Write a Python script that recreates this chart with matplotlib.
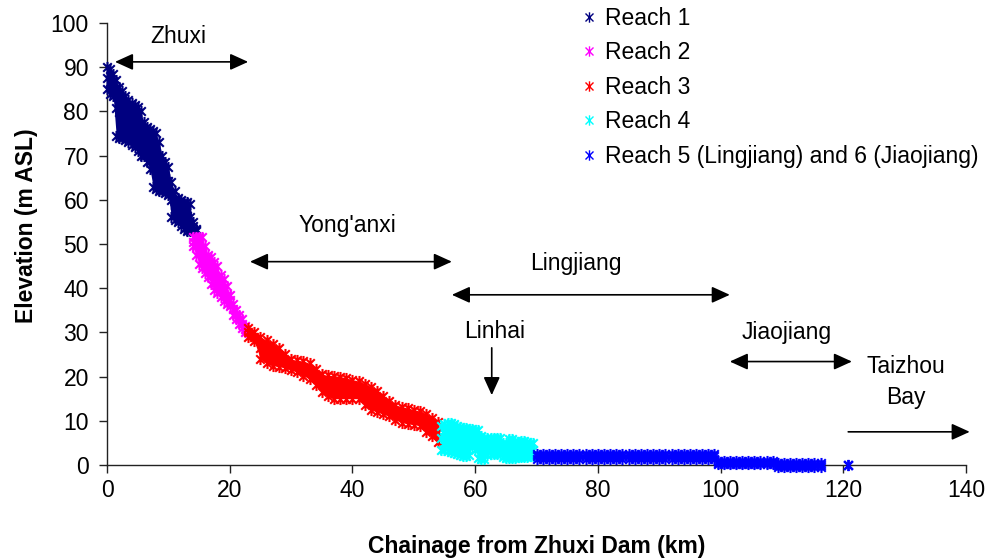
import numpy as np
import matplotlib
matplotlib.use('Agg')
import matplotlib.pyplot as plt
from matplotlib.path import Path

plt.rcParams['font.family'] = ['Liberation Sans', 'DejaVu Sans']

# Reach profiles: chainage stations (km) with upper / lower elevation of the scatter (m ASL)
r1_km = [0, 0.5, 1, 1.5, 2, 2.5, 3, 3.5, 4, 4.5, 5, 5.5, 6, 6.5, 7, 7.5, 8, 8.5, 9, 9.5,
         10, 10.5, 11, 11.5, 12, 12.5, 13, 13.5, 14, 14.5]
r1_top = [90, 89.5, 88.5, 87, 85.5, 84.5, 83.5, 82.5, 82, 81.5, 81, 80, 77.5, 76.5, 76, 75.5,
          75, 73, 70, 68.5, 67.5, 64, 62, 60.5, 60, 59.5, 59.5, 59, 55, 53.5]
r1_bot = [85, 84, 83.5, 74.5, 74, 74, 73.5, 73, 72.5, 72, 71, 70, 70, 68.5, 67, 63, 62.5, 62,
          62, 61.5, 61, 56, 55.5, 55, 54, 53.5, 53, 53, 53, 53]

r2_km = [14, 14.5, 15, 15.5, 16, 16.5, 17, 17.5, 18, 18.5, 19, 19.5, 20, 20.5, 21, 21.5, 22, 22.5]
r2_top = [51.5, 51.5, 51.5, 51.5, 49.5, 47.5, 47, 46, 45, 43, 42, 40.5, 38.5, 36.5, 35, 34, 33, 31.5]
r2_bot = [49.5, 47.5, 45.5, 44.5, 43.5, 42.5, 41, 39.5, 39, 38, 37, 36.5, 36, 34, 33, 32, 31, 30]

r3_km = [23, 24, 25, 26, 27, 28, 29, 30, 31, 32, 33, 34, 35, 36, 37, 38, 39, 40, 41, 42,
         43, 44, 45, 46, 47, 48, 49, 50, 51, 52, 53, 54]
r3_top = [31, 30, 29, 28.2, 27.3, 26.5, 25, 23.9, 23.7, 23.5, 23, 21.8, 20.5, 20.3, 20.2, 20,
          19.7, 19.3, 19, 18.3, 17.7, 16.8, 15.7, 14.5, 13.6, 13.2, 12.9, 12.5, 12.2, 11.5, 10.7, 9.8]
r3_bot = [29, 28, 24, 23, 22.5, 22.2, 22, 21.5, 21, 20.2, 19.5, 18, 16.5, 15.5, 15, 15, 15, 15,
          15, 13.5, 12.5, 12, 11.5, 11, 10.2, 9.6, 9.3, 9.1, 8.9, 7.5, 6.5, 5.2]

r4_km = [54.5, 55, 55.5, 56, 56.5, 57, 57.5, 58, 58.5, 59, 59.5, 60, 60.5, 61, 61.5, 62, 62.5,
         63, 63.5, 64, 64.5, 65, 65.5, 66, 66.5, 67, 67.5, 68, 68.5, 69, 69.5]
r4_top = [8.8, 9.3, 9.6, 9.6, 9.2, 8.8, 8.6, 8.4, 8.3, 8.2, 8.1, 8, 8, 6.5, 6.2, 6.2, 6.2, 6.2,
          6.2, 6.2, 5, 5, 5.8, 5.8, 5.5, 5.3, 5.4, 5.5, 5.2, 5, 4.9]
r4_bot = [3.5, 3.3, 3.2, 3, 2.8, 2.5, 2.3, 2, 2.1, 2.3, 4, 3.5, 1.5, 1.4, 1.4, 2.3, 2.5, 2.5,
          2.5, 2.4, 1.7, 1.5, 1.5, 1.5, 1.6, 1.7, 1.7, 1.8, 1.8, 2, 2]

r5_km = [70, 71, 72, 73, 74, 75, 76, 77, 78, 79, 80, 81, 82, 83, 84, 85, 86, 87, 88, 89,
         90, 91, 92, 93, 94, 95, 96, 97, 98, 99,
         99.5, 100.5, 101.5, 102.5, 103.5, 104.5, 105.5, 106.5, 107.5, 108.5,
         109.3, 110.3, 111.3, 112.3, 113.3, 114.3, 115.3, 116.3, 120.7]
r5_top = [2.5] * 30 + [0.9] * 10 + [0.4] * 8 + [0]
r5_bot = [1.4] * 30 + [0.2] * 10 + [-0.4] * 8 + [0]

reaches = [
    ('Reach 1', '#000080', r1_km, r1_top, r1_bot),
    ('Reach 2', '#FF00FF', r2_km, r2_top, r2_bot),
    ('Reach 3', '#FF0000', r3_km, r3_top, r3_bot),
    ('Reach 4', '#00FFFF', r4_km, r4_top, r4_bot),
    ('Reach 5 (Lingjiang) and 6 (Jiaojiang)', '#0000FF', r5_km, r5_top, r5_bot),
]

# Excel style asterisk: an X with a vertical bar
star = Path([(-1, -1), (1, 1), (-1, 1), (1, -1), (0, -1.3), (0, 1.3)],
            [Path.MOVETO, Path.LINETO, Path.MOVETO, Path.LINETO, Path.MOVETO, Path.LINETO])

fig = plt.figure(figsize=(9.9, 5.59), dpi=100)
ax = fig.add_axes([0.1081, 0.1682, 0.8677, 0.7907])

handles = []
for name, col, km, top, bot in reaches:
    km = np.array(km)
    top = np.array(top)
    bot = np.array(bot)
    n = len(km) - 1 if name.startswith('Reach 5') else len(km)
    ax.fill_between(km[:n], bot[:n], top[:n], color=col, lw=0, zorder=3, clip_on=False)
    ax.plot(km, (top + bot) / 2, ls='none', marker=star, ms=8, mew=1.5, color=col,
            zorder=3, clip_on=False)
    ax.plot(km, bot, ls='none', marker=star, ms=8, mew=1.5, color=col,
            zorder=3, clip_on=False)
    ax.plot(km, top, ls='none', marker=star, ms=8, mew=1.5, color=col,
            zorder=3, clip_on=False)
    h, = ax.plot([], [], ls='none', marker=star, ms=7.5, mew=1.0, color=col, label=name)
    handles.append(h)

ax.set_xlim(0, 140)
ax.set_ylim(0, 100)
ax.set_xticks(range(0, 141, 20))
ax.set_yticks(range(0, 101, 10))
for s in ['top', 'right']:
    ax.spines[s].set_visible(False)
for s in ['left', 'bottom']:
    ax.spines[s].set_color('#222222')
    ax.spines[s].set_linewidth(1.0)
    ax.spines[s].set_zorder(2)
ax.tick_params(direction='out', length=6, width=1, color='#222222', labelsize=16.5)
ax.tick_params(axis='y', pad=7)
ax.tick_params(axis='x', pad=4)

ax.set_xlabel('Chainage from Zhuxi Dam (km)', fontsize=16.5, fontweight='bold')
ax.set_ylabel('Elevation (m ASL)', fontsize=16.5, fontweight='bold')
ax.xaxis.set_label_coords(0.5, -0.158)
ax.yaxis.set_label_coords(-0.08, 0.541)

# river section arrows
arr2 = dict(arrowstyle='<|-|>,head_length=1.1,head_width=0.5', color='black', lw=1.2,
            shrinkA=0, shrinkB=0, mutation_scale=10)
arr1 = dict(arrowstyle='-|>,head_length=1.1,head_width=0.5', color='black', lw=1.2,
            shrinkA=0, shrinkB=0, mutation_scale=10)
ax.annotate('', xy=(23.0, 91.2), xytext=(1.3, 91.2), arrowprops=arr2, annotation_clip=False)
ax.annotate('', xy=(56.2, 46.0), xytext=(23.3, 46.0), arrowprops=arr2, annotation_clip=False)
ax.annotate('', xy=(101.5, 38.5), xytext=(56.2, 38.5), arrowprops=arr2, annotation_clip=False)
ax.annotate('', xy=(121.4, 23.4), xytext=(101.5, 23.4), arrowprops=arr2, annotation_clip=False)
ax.annotate('', xy=(62.7, 15.8), xytext=(62.7, 26.5), arrowprops=arr1, annotation_clip=False)
ax.annotate('', xy=(140.6, 7.5), xytext=(120.8, 7.5), arrowprops=arr1, annotation_clip=False)

tk = dict(fontsize=16.5, ha='center', va='baseline')
ax.text(11.65, 95.4, 'Zhuxi', **tk)
ax.text(39.2, 52.8, "Yong'anxi", **tk)
ax.text(76.35, 44.0, 'Lingjiang', **tk)
ax.text(63.2, 28.7, 'Linhai', **tk)
ax.text(110.7, 28.4, 'Jiaojiang', **tk)
ax.text(130.2, 20.7, 'Taizhou', clip_on=False, **tk)
ax.text(130.2, 13.7, 'Bay', clip_on=False, **tk)

fig.legend(handles=handles, loc='upper left', bbox_to_anchor=(580 / 990, 1 - 7 / 559),
           frameon=False, fontsize=16.5, handlelength=0.8, handletextpad=0.3,
           borderpad=0, borderaxespad=0, labelspacing=0.5)

fig.savefig('out.png', dpi=100)
